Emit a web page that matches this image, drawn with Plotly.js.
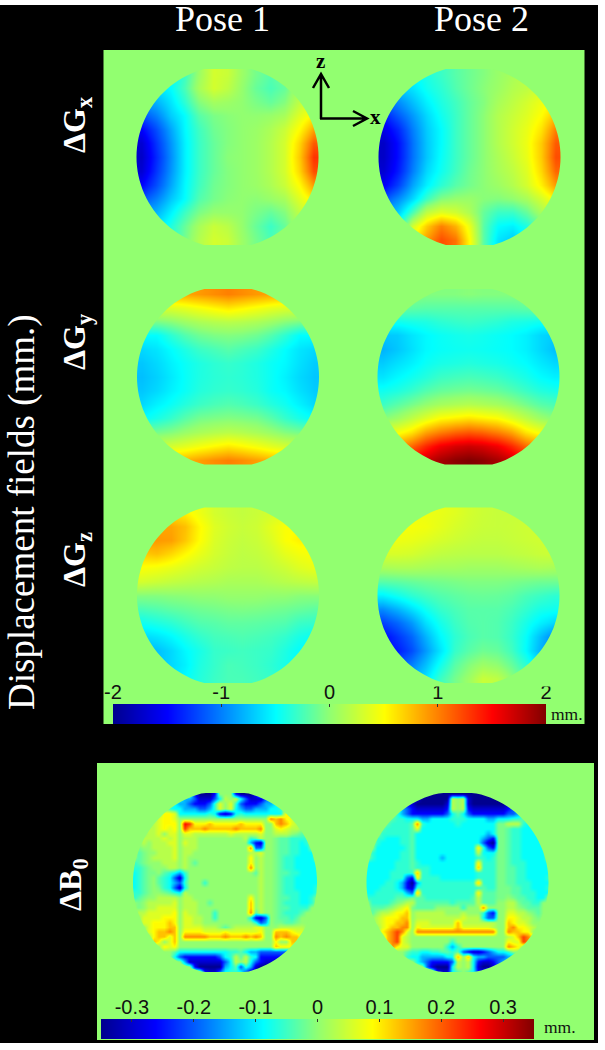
<!DOCTYPE html>
<html><head><meta charset="utf-8">
<script src="https://cdn.plot.ly/plotly-3.0.1.min.js"></script>
<style>html,body{margin:0;padding:0;background:#fff}</style></head>
<body><div id="chart" style="width:605px;height:1050px"></div>
<script>
const GREEN = 'rgb(146,255,112)';
const poseTitles = ['Pose 1', 'Pose 2'];
const rowLabels = ['ΔG<sub>x</sub>', 'ΔG<sub>y</sub>', 'ΔG<sub>z</sub>', 'ΔB<sub>0</sub>'];
const scaleTicksMain = [-2, -1, 0, 1, 2];
const scaleTicksB0 = [-0.3, -0.2, -0.1, 0, 0.1, 0.2, 0.3];
const scaleLabelsB0 = ['-0.3', '-0.2', '-0.1', '0', '0.1', '0.2', '0.3'];

const gxPose1 = [
[-.6,-.6,-.5,-.3,.05,.3,.25,.05,-.1,-.2,-.1,.1,.3],
[-.7,-.6,-.5,-.25,.1,.3,.2,.02,-.15,-.25,-.15,.1,.3],
[-.9,-.8,-.6,-.35,-.05,.08,.05,0,-.08,-.15,-.05,.2,.4],
[-1.2,-1,-.7,-.5,-.2,-.08,-.03,0,0,.03,.1,.35,.55],
[-1.5,-1.2,-.85,-.52,-.28,-.12,-.05,0,.04,.12,.25,.5,.85],
[-1.7,-1.3,-.92,-.55,-.3,-.15,-.05,0,.05,.15,.3,.65,1.15],
[-1.75,-1.35,-.95,-.55,-.3,-.15,-.03,0,.05,.15,.3,.7,1.3],
[-1.7,-1.3,-.92,-.55,-.3,-.15,-.05,0,.05,.15,.3,.65,1.2],
[-1.5,-1.2,-.85,-.52,-.28,-.12,-.05,0,.04,.12,.25,.5,.9],
[-1.2,-1,-.72,-.5,-.22,-.1,-.03,0,-.02,.03,.1,.35,.6],
[-.9,-.8,-.55,-.3,-.08,.02,.02,0,-.08,-.15,-.05,.2,.4],
[-.7,-.6,-.4,-.15,.1,.25,.18,.02,-.15,-.3,-.15,.1,.3],
[-.6,-.6,-.4,-.1,.15,.3,.25,.05,-.1,-.25,-.1,.1,.3]];
const gxPose2 = [
[-.6,-.55,-.5,-.4,-.3,-.2,-.12,-.05,.03,.1,.2,.3,.4],
[-.8,-.7,-.6,-.45,-.35,-.22,-.12,-.03,.05,.15,.2,.3,.45],
[-1.1,-.95,-.75,-.55,-.4,-.28,-.15,-.05,.1,.2,.3,.42,.55],
[-1.4,-1.15,-.9,-.65,-.45,-.3,-.15,-.02,.15,.25,.35,.5,.75],
[-1.6,-1.35,-1,-.7,-.5,-.3,-.15,-.02,.15,.28,.4,.6,1],
[-1.75,-1.45,-1.05,-.72,-.5,-.3,-.15,-.02,.15,.28,.42,.7,1.15],
[-1.75,-1.45,-1.05,-.72,-.48,-.3,-.15,-.02,.12,.25,.4,.7,1.2],
[-1.7,-1.4,-1,-.65,-.45,-.28,-.12,-.02,.1,.2,.35,.65,1.1],
[-1.55,-1.25,-.85,-.55,-.35,-.2,-.1,-.02,.05,.15,.3,.55,.9],
[-1.2,-.95,-.65,-.3,-.05,.02,.03,-.03,-.05,0,.1,.3,.55],
[-.9,-.7,-.25,.2,.35,.28,.12,-.15,-.3,-.3,-.15,.1,.3],
[-.7,-.4,.3,.7,1,.8,.4,-.2,-.5,-.55,-.4,-.15,.1],
[-.6,-.2,.5,.9,1.2,1.05,.5,-.2,-.6,-.7,-.5,-.2,.1]];
const gyPose1 = [
[.8,.8,.8,.85,.9,.95,1,.95,.9,.85,.8,.8,.8],
[.3,.3,.33,.38,.45,.52,.58,.52,.45,.38,.33,.3,.3],
[-.1,-.08,-.03,.05,.12,.16,.18,.16,.12,.05,-.03,-.08,-.1],
[-.5,-.5,-.35,-.22,-.12,-.07,-.05,-.07,-.12,-.22,-.35,-.5,-.5],
[-.65,-.6,-.5,-.4,-.3,-.25,-.2,-.25,-.3,-.4,-.5,-.6,-.65],
[-.72,-.65,-.55,-.47,-.4,-.35,-.32,-.35,-.4,-.47,-.52,-.62,-.7],
[-.75,-.68,-.58,-.48,-.4,-.36,-.34,-.36,-.4,-.47,-.55,-.65,-.72],
[-.72,-.65,-.55,-.47,-.38,-.34,-.32,-.34,-.38,-.47,-.52,-.62,-.7],
[-.65,-.55,-.47,-.38,-.3,-.25,-.22,-.25,-.3,-.38,-.45,-.55,-.65],
[-.5,-.42,-.32,-.2,-.1,-.07,-.05,-.07,-.1,-.2,-.32,-.42,-.5],
[-.12,-.1,-.05,.03,.1,.15,.18,.15,.1,.03,-.05,-.1,-.12],
[.25,.25,.3,.37,.45,.52,.58,.52,.45,.37,.3,.25,.25],
[.75,.75,.75,.8,.88,.95,1,.95,.88,.8,.75,.75,.75]];
const gyPose2 = [
[-.02,-.02,-.03,-.05,-.05,-.05,-.03,-.05,-.05,-.05,-.03,-.02,-.02],
[-.15,-.15,-.18,-.2,-.2,-.2,-.2,-.2,-.2,-.2,-.18,-.15,-.15],
[-.45,-.45,-.42,-.4,-.35,-.32,-.3,-.32,-.35,-.4,-.42,-.45,-.45],
[-.72,-.7,-.6,-.52,-.47,-.44,-.42,-.44,-.47,-.5,-.55,-.65,-.7],
[-.8,-.72,-.62,-.52,-.48,-.46,-.45,-.46,-.48,-.5,-.55,-.65,-.75],
[-.7,-.62,-.55,-.47,-.42,-.4,-.38,-.4,-.42,-.46,-.5,-.58,-.65],
[-.6,-.52,-.45,-.38,-.3,-.27,-.25,-.27,-.3,-.36,-.42,-.5,-.55],
[-.45,-.4,-.32,-.22,-.15,-.12,-.1,-.12,-.15,-.22,-.3,-.38,-.42],
[-.3,-.2,-.1,0,.08,.12,.15,.12,.08,0,-.1,-.2,-.25],
[-.05,.05,.2,.35,.5,.55,.6,.55,.5,.35,.2,.05,-.05],
[.35,.45,.6,.85,1,1.1,1.15,1.1,1,.85,.6,.45,.35],
[.8,.9,1.1,1.35,1.55,1.65,1.7,1.65,1.55,1.35,1.1,.9,.8],
[1.2,1.3,1.5,1.7,1.85,1.95,2,1.95,1.85,1.7,1.5,1.3,1.2]];
const gzPose1 = [
[.6,.6,.6,.55,.42,.3,.25,.22,.25,.3,.35,.42,.42],
[.85,.85,.85,.75,.52,.35,.28,.24,.27,.38,.48,.5,.5],
[.9,.9,.88,.72,.5,.33,.26,.22,.25,.34,.48,.55,.5],
[.7,.75,.65,.52,.4,.3,.24,.2,.22,.28,.38,.45,.48],
[.48,.45,.4,.34,.28,.24,.2,.18,.18,.22,.27,.35,.4],
[.3,.26,.22,.19,.16,.14,.11,.11,.11,.14,.17,.2,.22],
[-.05,-.05,-.03,-.02,0,0,.02,.02,.02,0,0,-.03,-.03],
[-.25,-.22,-.18,-.15,-.12,-.1,-.08,-.07,-.08,-.1,-.12,-.15,-.18],
[-.45,-.4,-.35,-.28,-.22,-.2,-.17,-.17,-.18,-.2,-.22,-.3,-.32],
[-.65,-.6,-.52,-.42,-.33,-.27,-.25,-.23,-.25,-.28,-.33,-.42,-.48],
[-.8,-.75,-.65,-.52,-.42,-.32,-.3,-.28,-.3,-.32,-.4,-.5,-.55],
[-.8,-.75,-.65,-.55,-.4,-.32,-.25,-.27,-.3,-.35,-.42,-.52,-.55],
[-.7,-.7,-.6,-.5,-.38,-.3,-.25,-.25,-.28,-.32,-.4,-.5,-.5]];
const gzPose2 = [
[.42,.42,.42,.42,.4,.36,.3,.26,.24,.24,.26,.27,.27],
[.46,.46,.46,.44,.38,.32,.28,.25,.24,.25,.27,.28,.28],
[.42,.42,.4,.36,.31,.27,.24,.22,.22,.24,.26,.28,.3],
[.32,.32,.3,.25,.21,.19,.18,.18,.18,.2,.22,.25,.27],
[.1,.12,.12,.1,.08,.08,.06,.06,.06,.08,.1,.12,.1],
[-.2,-.18,-.15,-.12,-.1,-.08,-.06,-.06,-.06,-.08,-.1,-.12,-.12],
[-.55,-.45,-.35,-.28,-.22,-.18,-.15,-.14,-.15,-.18,-.25,-.3,-.35],
[-.95,-.8,-.62,-.45,-.32,-.25,-.2,-.2,-.2,-.25,-.33,-.42,-.45],
[-1.25,-1.1,-.9,-.62,-.43,-.3,-.22,-.2,-.22,-.3,-.42,-.55,-.65],
[-1.5,-1.3,-1.1,-.8,-.52,-.35,-.25,-.2,-.22,-.32,-.48,-.75,-1],
[-1.5,-1.4,-1.2,-.9,-.6,-.32,-.2,-.12,-.15,-.28,-.5,-.8,-1],
[-1.3,-1.2,-1,-.75,-.45,-.2,-.05,.05,0,-.15,-.35,-.6,-.8],
[-1,-.9,-.8,-.6,-.3,-.1,.05,.25,.2,0,-.2,-.4,-.5]];

/* ΔB0 maps, one letter per sample; see b0Levels. Spaces are only for reading. */
const b0Levels = {A:-.35,B:-.3,C:-.26,D:-.2,E:-.14,F:-.085,G:-.06,H:-.035,I:-.015,'.':0,a:.03,b:.06,c:.09,d:.13,e:.17,f:.22,g:.26,h:.32};
const b0Pose1 = [
"............CAAAC...CAAAC............",
".........FEEDBBBDFa.aFDBBBDEEF.......",
".......GFEEDCCCDGb.bGDCCCDEEFG.......",
".......GFFEEEDDEGb.bFEDDEEEFFG.......",
"......ccbFFFFFFGFCBCFGFFFFFFFFcdd....",
".....bccb..................edecb.....",
"....abccc . gfcccdcccccdcccc .. dedba....",
"...aabcbc . fdddedddddedddde .. bcbaa....",
"...aab.bb . bbaaaaaaabaaaaab .. aaa.IHH..",
"..aaaabab . aaa.........aGHa .. IHHGGGG..",
"..a.aaabb . baa..........ECB .. IHHGGFG..",
".I..aaaab . aaa..........eDD .. IHHGGFF..",
".HI..aaab . aa...........aab .. IHHGGFFF.",
".HI.aaaab . a............c.a .. IHGGFFFF.",
"GHI...aaa . a.H..........c.a .. IHGGFFFFF",
"GGHI...aa . a............e.a .. IHGGFFFFF",
"FGHII.HGF E G.............Ha .. IHHGGFFFF",
"FGHI.HGFD B F..............a .. IHGGFFFFF",
"FGHI.HGFE D G...G..........a .. IHGGFFFFF",
"FGHI.IGFD B F..............a .. IHGGFFFFG",
"GGHI..IHG F a..............a .. IHGGGFFFG",
"GHI..aaaa . aa...........c.a .. IHHGGFFG.",
".I.aaaaab . aaa..H.......d.a .. IHGGGFFG.",
".I.aabbbb . aaa..........d.a .. IHHGGGG..",
".aabbbbbc . baa...G......eHa .. IHGGGH...",
"..bbbbccc . bbaa..G......FCB D. IHHGH....",
"..bbcccdc . bbaa..........GD E. IIHHI....",
"...bcccdd . bbbbaaa.H.aaaabb .. .aaaaa...",
"...bcdded . ccccbbbbcbbbbbbc .. dddcbb...",
"....cddbd . eeeeedddedddeded .. ededdb...",
"....dc.bd . ................ .. c..ddc...",
"......cbc . ................ .. dcccbb...",
"........HFFFFFFFFFFGGHFEEDDDDDDDEF...",
"........FDCCCCCCCDFGaHaGFCCCCCCDEF...",
"..........EBBBBBBBDFa.aFDCBBBBDF.....",
"............CAAAAAEFHDGEBAAAAC.......",
"..............CBBDFGGFDBBC..........."];
const b0Pose2 = [
"...........BAAAAAAAAAAAAAB...........",
".........CBAAAAAAa.aBAAAAAAAC........",
".......DCBAAAAAABa.aBAAAAAAABCD......",
".......EDCBBBBBBCa.aCBBBBBBBCDE......",
"......GEDCCCCCCCDFHFDCCCCCCCDDEG.....",
".....HGGFFFEEFFFFGGGFFFFEEFFFGGH.....",
"....HGGGG H eGFFFFFFGFFFFFFF II aaaGFFG..",
"...HGGGGG H bFFFFFFFFFFFFFFF II HGGFFFG..",
"...GGGGGG H FFFFFFFFFFFFFFEF II HGGFFFF..",
"..GGFFFGG H FFFFFFFFFFFFFEDC II HGGFFFFG.",
"..GFFFFGG H FFFFFFFFFFFFFDBA II HGGFFFFG.",
"..FFFFFFG H FFFFFFFFFFFFcGDC II HGGFFFFF.",
".GFFFFFGG H FFFFFFFFFFFFaFFF II HGGFFFFF.",
".GFFFFFGG H FFFFFEFFFFFFGGFG II HGGFFFFF.",
"FFFFFFGGG H GFFFFFFFFFFFcGGG II HGGGFFFFF",
"FFFFFFGGG H GGGFFFFFFFFFdGGG II HHGGFFFFF",
"FFFFFGGGG G dGGFFFFFFFFFGGGG II HHGGFFFFF",
"FFFFFGGGD C cGGGGFFFFFFFGGGG II HHGGFFFFG",
"FFFFGGFEC A EGGGGGGGGGGGdGGG II HHGGGFFFF",
"FFFGGGFEC B GGGGGGGGGGGGGHGG II IHHGGFFFG",
"FFGGGGGGE D dGGGGGGGGGGGcHHH II IHHGGGFFF",
"GGGGGGHHH I HHGGGGGGGGGHaHHH II .IHHGGFF.",
".GGGGHI.a a HHHHHHHGHHHHaHHH .. aaIHHGG..",
".HHHI.abc I HHHH.....G...e.. .. aa.IHHH..",
".H.aabccd . aaaaaa...a...GDC .. bbaa.IH..",
"..abcccdd . aaaaaaaaabaaaFDD .. ccbaa.I..",
"..abccdde . bbbaaaaadaaaaaaa .. dcbba....",
"...bcddee . cbbbbbbbdbbbbbba .. deccba...",
"...cdefeb . eeeeeeeeeeeeeeee .. eddcc....",
"....defba . ................ .. abdfec...",
"....defba . .......G........ .. cbbfec...",
".....ecbb . ......GEG....... .. edc......",
"........HGGFFGGHHGHDCBBCDEFFG........",
"........GFFEEEEEFFd.dFEEDDDDEEF......",
"..........FEDCCCCDa.aFCBBCDEF........",
"............DBAAAFa.aFBAABD..........",
"..............CBBFH.HFCCF............"];

function decodeB0(rows){
  return rows.map(r => Array.from(r.replace(/ /g,'').padEnd(37,'.').slice(0,37)).map(c => b0Levels[c]));
}

const jet = [[0,'rgb(0,0,143)'],[.125,'rgb(0,0,255)'],[.375,'rgb(0,255,255)'],[.5,GREEN],[.625,'rgb(255,255,0)'],[.875,'rgb(255,0,0)'],[1,'rgb(128,0,0)']];

/* panel geometry on the page, in pixels */
const discs = [
 {z:gxPose1,cx:227.5,r:91,t:69,b:245,lim:2},{z:gxPose2,cx:469.5,r:91,t:69,b:245,lim:2},
 {z:gyPose1,cx:228,r:91,t:289,b:464.5,lim:2},{z:gyPose2,cx:468.5,r:91,t:289,b:464.5,lim:2},
 {z:gzPose1,cx:228,r:91,t:507.5,b:683,lim:2},{z:gzPose2,cx:468.5,r:91,t:507.5,b:683,lim:2},
 {z:decodeB0(b0Pose1),cx:225,r:92,t:793,b:972,lim:.35},{z:decodeB0(b0Pose2),cx:457.5,r:91,t:793,b:972,lim:.35}];

/* the image of each field runs 2px past its disc; the mask trims it to the disc */
const OVER = 2;
const traces = discs.map(d => {
  const nx=d.z[0].length, ny=d.z.length, dx=(2*d.r+2*OVER)/nx, dy=(d.b-d.t+2*OVER)/ny;
  return {type:'heatmap', z:d.z, x0:d.cx-d.r-OVER+dx/2, dx, y0:d.t-OVER+dy/2, dy,
    zsmooth:'best', colorscale:jet, zmin:-d.lim, zmax:d.lim, showscale:false, hoverinfo:'skip', xaxis:'x', yaxis:'y'};
});
traces.push({type:'heatmap', x:scaleTicksMain, y:[0,1], z:[scaleTicksMain,scaleTicksMain], zsmooth:'best',
  colorscale:jet, zmin:-2, zmax:2, showscale:false, hoverinfo:'skip', xaxis:'x2', yaxis:'y2'});
const b0Ramp = [-.35,-.2625,-.0875,0,.0875,.2625,.35];
traces.push({type:'heatmap', x:b0Ramp, y:[0,1], z:[b0Ramp,b0Ramp], zsmooth:'best',
  colorscale:jet, zmin:-.35, zmax:.35, showscale:false, hoverinfo:'skip', xaxis:'x3', yaxis:'y3'});

function maskPath(d){
  const cy=(d.t+d.b)/2, pts=[];
  for(let i=0;i<120;i++){
    const a=i/120*2*Math.PI;
    pts.push((d.cx+d.r*Math.cos(a)).toFixed(1)+' '+Math.min(d.b,Math.max(d.t,cy+d.r*Math.sin(a))).toFixed(1));
  }
  const m=OVER+1.5, L=d.cx-d.r-m,R=d.cx+d.r+m,T=d.t-m,B=d.b+m;
  return `M${L} ${T}L${R} ${T}L${R} ${B}L${L} ${B}ZM`+pts.join('L')+'Z';
}
const rect=(x0,y0,x1,y1,c)=>({type:'rect',xref:'x',yref:'y',x0,y0,x1,y1,fillcolor:c,line:{width:0},layer:'below'});
const shapes=[rect(0,5,598,1043,'#000'),rect(103.5,50,584.5,724,GREEN),rect(97,763,594,1040,GREEN)];
discs.forEach(d=>shapes.push({type:'path',xref:'x',yref:'y',path:maskPath(d),fillcolor:GREEN,fillrule:'evenodd',line:{width:0},layer:'above'}));
['M321 119L321 75M313 88L321 74L329 88','M320 118.5L366 118.5M353 111L367 118.5L353 126'].forEach(p=>
  shapes.push({type:'path',xref:'x',yref:'y',path:p,line:{color:'#000',width:2.5},layer:'above'}));

const serif='"Liberation Serif", serif';
const note=(x,y,text,size,color,angle,bold)=>({xref:'x',yref:'y',x,y,text:bold?`<b>${text}</b>`:text,showarrow:false,textangle:angle||0,
  font:{family:serif,size,color},xanchor:'center',yanchor:'middle'});
const annotations=[
 note(222,19,poseTitles[0],36,'#fff'),note(481.5,19,poseTitles[1],36,'#fff'),
 note(76,125,rowLabels[0],32,'#fff',-90,true),note(76,342,rowLabels[1],32,'#fff',-90,true),
 note(76,560,rowLabels[2],32,'#fff',-90,true),note(72,885,rowLabels[3],32,'#fff',-90,true),
 note(22,512,'Displacement fields (mm.)',37,'#fff',-90),
 note(320,61,'z',21,'#000',0,true),note(375,117,'x',21,'#000',0,true),
 note(567,714,'mm.',17.5,'#111'),note(560,1027,'mm.',17.5,'#111')];

const W=605,H=1050;
const hidden={visible:false,fixedrange:true};
const scaleAxis=(x0,x1,lim,vals,text,yname)=>({domain:[x0/W,x1/W],range:[-lim,lim],anchor:yname,side:'top',
  tickmode:'array',tickvals:vals,ticktext:text,ticks:'inside',ticklen:3,tickwidth:1,tickcolor:'#333',
  showgrid:false,zeroline:false,showline:false,fixedrange:true,tickfont:{family:'"Liberation Sans",Arial,sans-serif',size:20,color:'#111'}});
const layout={
  width:W,height:H,margin:{l:0,r:0,t:0,b:0},paper_bgcolor:'#fff',plot_bgcolor:'rgba(0,0,0,0)',showlegend:false,
  xaxis:{...hidden,domain:[0,1],range:[0,W]},yaxis:{...hidden,domain:[0,1],range:[H,0]},
  xaxis2:scaleAxis(113,546,2,scaleTicksMain,scaleTicksMain.map(String),'y2'),
  yaxis2:{...hidden,domain:[1-724/H,1-704/H],range:[0,1],anchor:'x2'},
  xaxis3:scaleAxis(101,534,.35,scaleTicksB0,scaleLabelsB0,'y3'),
  yaxis3:{...hidden,domain:[1-1039/H,1-1019/H],range:[0,1],anchor:'x3'},
  shapes,annotations};
Plotly.newPlot('chart',traces,layout,{staticPlot:true,displayModeBar:false});
</script></body></html>
